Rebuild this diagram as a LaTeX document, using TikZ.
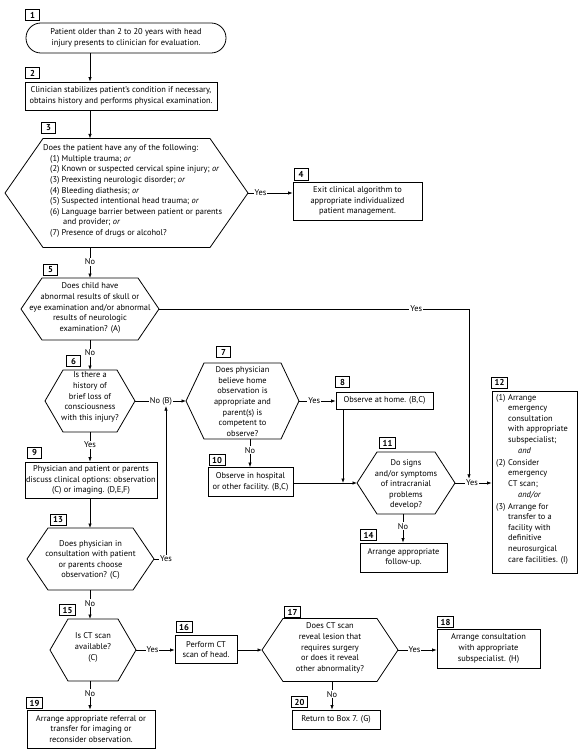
\documentclass[tikz,border=0pt]{standalone}
\usepackage{fontspec}
\setmainfont{PT Sans}
\usetikzlibrary{arrows.meta,calc}
\newcommand\txt{\fontsize{8.4}{10.6}\selectfont}
\tikzset{
  shp/.style={draw=black, line width=0.8pt},
  arr/.style={draw=black, line width=0.7pt, -{Latex[length=4.5pt,width=3.4pt]}},
  box/.style={draw=black, line width=0.8pt, inner sep=0pt, align=center, font=\txt},
  core/.style={inner sep=0pt, outer sep=0pt},
  txt/.style={inner sep=0pt, align=center, font=\txt},
  num/.style={draw=black, line width=1pt, minimum width=14pt, minimum height=11pt, inner sep=0pt, font=\bfseries\fontsize{8.6}{8.6}\selectfont},
  numw/.style={num, minimum width=16pt},
  elab/.style={fill=white, inner sep=1pt, font=\txt},
}
\newcommand\hexa[6]{%
  \node[core, minimum width=#4, minimum height=#5] (#1) at (#2,#3) {};
  \draw[shp] (#1.north west) -- (#1.north east) -- ($(#1.east)+(#6,0)$) coordinate (#1-r)
    -- (#1.south east) -- (#1.south west) -- ($(#1.west)-(#6,0)$) coordinate (#1-l) -- cycle;}
\begin{document}
\begin{tikzpicture}[x=1pt,y=-1pt]
\useasboundingbox[fill=white] (0,0) rectangle (584,754);
\coordinate (col) at (90,0);
\coordinate (v12) at (469,0);
\coordinate (c8) at (343,0);
\coordinate (c10) at (250,0);
\coordinate (c13) at (166,0);
\coordinate (c14) at (403,0);
\coordinate (c20) at (332,0);

% boxes
\node[box, minimum width=200, minimum height=30, rounded corners=14.9pt] (b1) at (126,38)
  {Patient older than 2 to 20 years with head\\injury presents to clinician for evaluation.};
\node[box, minimum width=192, minimum height=28] (b2) at (121,96)
  {Clinician stabilizes patient's condition if necessary,\\obtains history and performs physical examination.};
\node[box, minimum width=129, minimum height=38] (b4) at (357.5,201)
  {Exit clinical algorithm to\\appropriate individualized\\patient management.};
\node[box, minimum width=97, minimum height=17] (b8) at (384.5,400.5) {Observe at home. (B,C)};
\node[box, minimum width=132, minimum height=36] (b9) at (91,480)
  {Physician and patient or parents\\discuss clinical options: observation\\(C) or imaging. (D,E,F)};
\node[box, minimum width=85, minimum height=29] (b10) at (250.5,482)
  {Observe in hospital\\or other facility. (B,C)};
\node[box, minimum width=85, minimum height=182] (b12) at (534.5,482) {};
\node[txt, align=left, anchor=north west] (b12t) at (496,394)
  {\makebox[12pt][l]{(1)}Arrange\\
   \hspace*{12pt}emergency\\
   \hspace*{12pt}consultation\\
   \hspace*{12pt}with appropriate\\
   \hspace*{12pt}subspecialist;\\
   \hspace*{22pt}\textit{and}\\[1.5pt]
   \makebox[12pt][l]{(2)}Consider\\
   \hspace*{12pt}emergency\\
   \hspace*{12pt}CT scan;\\
   \hspace*{22pt}\textit{and/or}\\[1.5pt]
   \makebox[12pt][l]{(3)}Arrange for\\
   \hspace*{12pt}transfer to a\\
   \hspace*{12pt}facility with\\
   \hspace*{12pt}definitive\\
   \hspace*{12pt}neurosurgical\\
   \hspace*{12pt}care facilities. (I)};
\node[box, minimum width=87, minimum height=29] (b14) at (403.5,557.5)
  {Arrange appropriate\\follow-up.};
\node[box, minimum width=62, minimum height=28] (b16) at (206,649.5)
  {Perform CT\\scan of head.};
\node[box, minimum width=103, minimum height=39] (b18) at (488.5,648.5)
  {Arrange consultation\\with appropriate\\subspecialist. (H)};
\node[box, minimum width=128, minimum height=38] (b19) at (91,729)
  {Arrange appropriate referral or\\transfer for imaging or\\reconsider observation.};
\node[box, minimum width=88, minimum height=19] (b20) at (336,719.5)
  {Return to Box 7. (G)};

% hexagons
\hexa{h3}{126.5}{193}{167}{109}{38}
\node[txt, align=left, anchor=west] (h3t) at (43,191)
  {Does the patient have any of the following:\\
   \hspace*{7pt}(1) Multiple trauma; \textit{or}\\
   \hspace*{7pt}(2) Known or suspected cervical spine injury; \textit{or}\\
   \hspace*{7pt}(3) Preexisting neurologic disorder; \textit{or}\\
   \hspace*{7pt}(4) Bleeding diathesis; \textit{or}\\
   \hspace*{7pt}(5) Suspected intentional head trauma; \textit{or}\\
   \hspace*{7pt}(6) Language barrier between patient or parents\\
   \hspace*{20pt}and provider; \textit{or}\\
   \hspace*{7pt}(7) Presence of drugs or alcohol?};
\hexa{h5}{90}{309}{96}{62}{21}
\node[txt] (h5t) at (90,308) {Does child have\\abnormal results of skull or\\eye examination and/or abnormal\\results of neurologic\\examination? (A)};
\hexa{h6}{90}{401}{54}{62}{18}
\node[txt] (h6t) at (90,397) {Is there a\\history of\\brief loss of\\consciousness\\with this injury?};
\hexa{h7}{242.5}{401}{77}{76}{18}
\node[txt] (h7t) at (242.5,401.5) {Does physician\\believe home\\observation is\\appropriate and\\parent(s) is\\competent to\\observe?};
\hexa{h11}{406}{483}{58}{62}{20}
\node[txt] (h11t) at (406,484.5) {Do signs\\and/or symptoms\\of intracranial\\problems\\develop?};
\hexa{h13}{90.5}{559}{85}{62}{21}
\node[txt] (h13t) at (90.5,560) {Does physician in\\consultation with patient\\or parents choose\\observation? (C)};
\hexa{h15}{93}{650}{50}{62}{18}
\node[txt] (h15t) at (93,647.5) {Is CT scan\\available?\\(C)};
\hexa{h17}{330}{650}{94}{63}{21}
\node[txt] (h17t) at (330,648) {Does CT scan\\reveal lesion that\\requires surgery\\or does it reveal\\other abnormality?};

% number labels
\node[num] (n1) at (32.5,15.5) {1};
\node[num] (n2) at (32.5,73.5) {2};
\node[num] (n3) at (48.5,128) {3};
\node[num] (n4) at (301,174.5) {4};
\node[num] (n5) at (50.5,270) {5};
\node[num] (n6) at (73.5,361) {6};
\node[num] (n7) at (223.5,352) {7};
\node[num] (n8) at (342.5,382) {8};
\node[num] (n9) at (34.5,452.5) {9};
\node[numw] (n10) at (217,460) {10};
\node[numw] (n11) at (387.5,443) {11};
\node[numw] (n12) at (499.5,382.5) {12};
\node[numw] (n13) at (58,519.5) {13};
\node[numw] (n14) at (368.5,535) {14};
\node[numw] (n15) at (67.5,610) {15};
\node[numw] (n16) at (184,627) {16};
\node[numw] (n17) at (292.5,612) {17};
\node[numw] (n18) at (445.5,622) {18};
\node[numw] (n19) at (34.5,703) {19};
\node[numw] (n20) at (299.5,702) {20};

% connectors
\draw[arr] (b1.south -| col) -- (b2.north -| col);
\draw[arr] (b2.south -| col) -- (h3.north -| col);
\draw[arr] (h3-r) -- (h3-r -| b4.west) node[elab, pos=0.28] {Yes};
\draw[arr] (h3.south -| col) -- (h5.north -| col) node[elab, pos=0.47] {No};
\node[elab] (y11) at (472,483) {Yes};
\draw[arr] (h5-r) -- (h5-r -| v12) node[elab, pos=0.83] {Yes} -- (v12 |- y11.north);
\draw[arr] (h5.south -| col) -- (h6.north -| col) node[elab, pos=0.43] {No};
\node[elab] (nob) at (161,401) {No (B)};
\draw[arr] (h6-r) -- (h7-l);
\draw[arr] (h6.south -| col) -- (b9.north -| col) node[elab, pos=0.43] {Yes};
\draw[arr] (h7-r) -- (h7-r -| b8.west) node[elab, pos=0.42] {Yes};
\draw[arr] (h7.south -| c10) -- (b10.north -| c10) node[elab, pos=0.4] {No};
\draw[arr] (b10.east |- h11-l) -- (h11-l);
\draw[arr] (b8.south -| c8) -- (c8 |- h11-l);
\draw[arr] (h11-r) -- (h11-r -| b12.west);
\node[elab] at (y11) {Yes};
\draw[arr] (h11.south -| c14) -- (b14.north -| c14) node[elab, pos=0.43] {No};
\draw[arr] (b9.south -| col) -- (h13.north -| col);
\draw[arr] (h13-r) -- (h13-r -| c13) node[elab, pos=1] (y13) {Yes} -- (c13 |- nob.south);
\draw[arr] (h13.south -| col) -- (h15.north -| col) node[elab, pos=0.46] {No};
\draw[arr] (h15-r) -- (h15-r -| b16.west) node[elab, pos=0.43] {Yes};
\draw[arr] (b16.east |- h17-l) -- (h17-l);
\draw[arr] (h17-r) -- (h17-r -| b18.west) node[elab, pos=0.43] {Yes};
\draw[arr] (h17.south -| c20) -- (b20.north -| c20) node[elab, pos=0.46] {No};
\draw[arr] (h15.south -| col) -- (b19.north -| col) node[elab, pos=0.43] {No};
\node[elab] at (nob) {No (B)};
\end{tikzpicture}
\end{document}
